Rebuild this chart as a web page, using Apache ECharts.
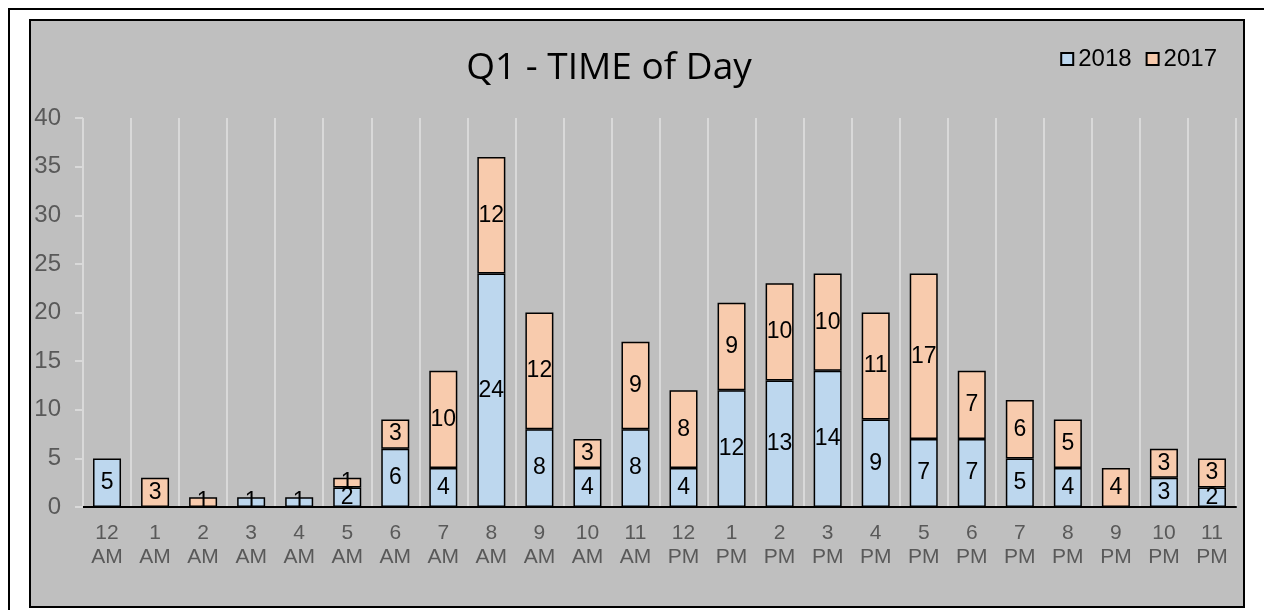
<!DOCTYPE html>
<html>
<head>
<meta charset="utf-8">
<title>Q1 - TIME of Day</title>
<script src="https://cdn.jsdelivr.net/npm/echarts@6/dist/echarts.min.js"></script>
<style>
  html, body { margin: 0; padding: 0; background: #fff; }
  #main { width: 1264px; height: 610px; }
</style>
</head>
<body>
<div id="main"></div>
<script>
// 数据
const hours = ['12 AM', '1 AM', '2 AM', '3 AM', '4 AM', '5 AM', '6 AM', '7 AM', '8 AM', '9 AM', '10 AM', '11 AM',
  '12 PM', '1 PM', '2 PM', '3 PM', '4 PM', '5 PM', '6 PM', '7 PM', '8 PM', '9 PM', '10 PM', '11 PM']
const y2018 = [5, 0, 0, 1, 1, 2, 6, 4, 24, 8, 4, 8, 4, 12, 13, 14, 9, 7, 7, 5, 4, 0, 3, 2]
const y2017 = [0, 3, 1, 0, 0, 1, 3, 10, 12, 12, 3, 9, 8, 9, 10, 10, 11, 17, 7, 6, 5, 4, 3, 3]
const yTicks = [0, 5, 10, 15, 20, 25, 30, 35, 40]

const labelFont = 'Liberation Sans, Arial, sans-serif'

const barLabel = {
  show: true,
  position: 'inside',
  color: '#000',
  fontSize: 23,
  fontFamily: labelFont,
  formatter: (p) => (p.value ? p.value : '')
}

// 0 不画柱子（避免多出一条边框）
const noZero = (arr) => arr.map((v) => (v === 0 ? null : v))

const myChart = echarts.init(document.getElementById('main'))

const option = {
  backgroundColor: '#fff',
  animation: false,
  graphic: [
    // 外框
    {
      type: 'rect', z: -20, silent: true,
      shape: { x: 9, y: 9, width: 1300, height: 700 },
      style: { fill: '#fff', stroke: '#000', lineWidth: 2 }
    },
    // 灰色绘图区
    {
      type: 'rect', z: -10, silent: true,
      shape: { x: 30, y: 20, width: 1214, height: 587 },
      style: { fill: '#bfbfbf', stroke: '#000', lineWidth: 2 }
    }
  ],
  title: {
    text: 'Q1 - TIME of Day',
    left: 604,
    top: 45,
    textAlign: 'center',
    textStyle: {
      fontFamily: 'Open Sans, sans-serif',
      fontWeight: 'normal',
      fontSize: 37,
      color: '#000'
    }
  },
  legend: {
    data: ['2018', '2017'],
    right: 42,
    top: 42,
    icon: 'rect',
    itemWidth: 12,
    itemHeight: 12,
    itemGap: 14,
    textStyle: { fontFamily: labelFont, fontSize: 24, color: '#000', padding: [0, 0, 0, 0] }
  },
  grid: {
    left: 83,
    right: 28,
    top: 118,
    bottom: 103,
    containLabel: false
  },
  xAxis: {
    type: 'category',
    data: hours,
    boundaryGap: true,
    axisLine: { show: true, lineStyle: { color: '#000', width: 2 } },
    axisTick: { show: false },
    splitLine: { show: true, lineStyle: { color: '#d9d9d9', width: 2 } },
    axisLabel: {
      interval: 0,
      margin: 14,
      color: '#595959',
      fontFamily: labelFont,
      fontSize: 21,
      lineHeight: 24,
      formatter: (v) => v.replace(' ', '\n')
    }
  },
  yAxis: {
    type: 'value',
    min: yTicks[0],
    max: yTicks[yTicks.length - 1],
    interval: 5,
    axisLine: { show: false },
    axisTick: { show: true, length: 8, lineStyle: { color: '#d9d9d9', width: 2 } },
    splitLine: { show: false },
    axisLabel: {
      margin: 22,
      color: '#595959',
      fontFamily: labelFont,
      fontSize: 24
    }
  },
  series: [
    {
      name: '2018',
      type: 'bar',
      stack: 'total',
      barWidth: 28,
      data: noZero(y2018),
      itemStyle: { color: '#bdd7ee', borderColor: '#000', borderWidth: 1.5 },
      label: barLabel
    },
    {
      name: '2017',
      type: 'bar',
      stack: 'total',
      barWidth: 28,
      data: noZero(y2017),
      itemStyle: { color: '#f8cbad', borderColor: '#000', borderWidth: 1.5 },
      label: barLabel
    }
  ]
}

myChart.setOption(option)
window.onresize = () => {
  myChart.resize()
}
</script>
</body>
</html>
